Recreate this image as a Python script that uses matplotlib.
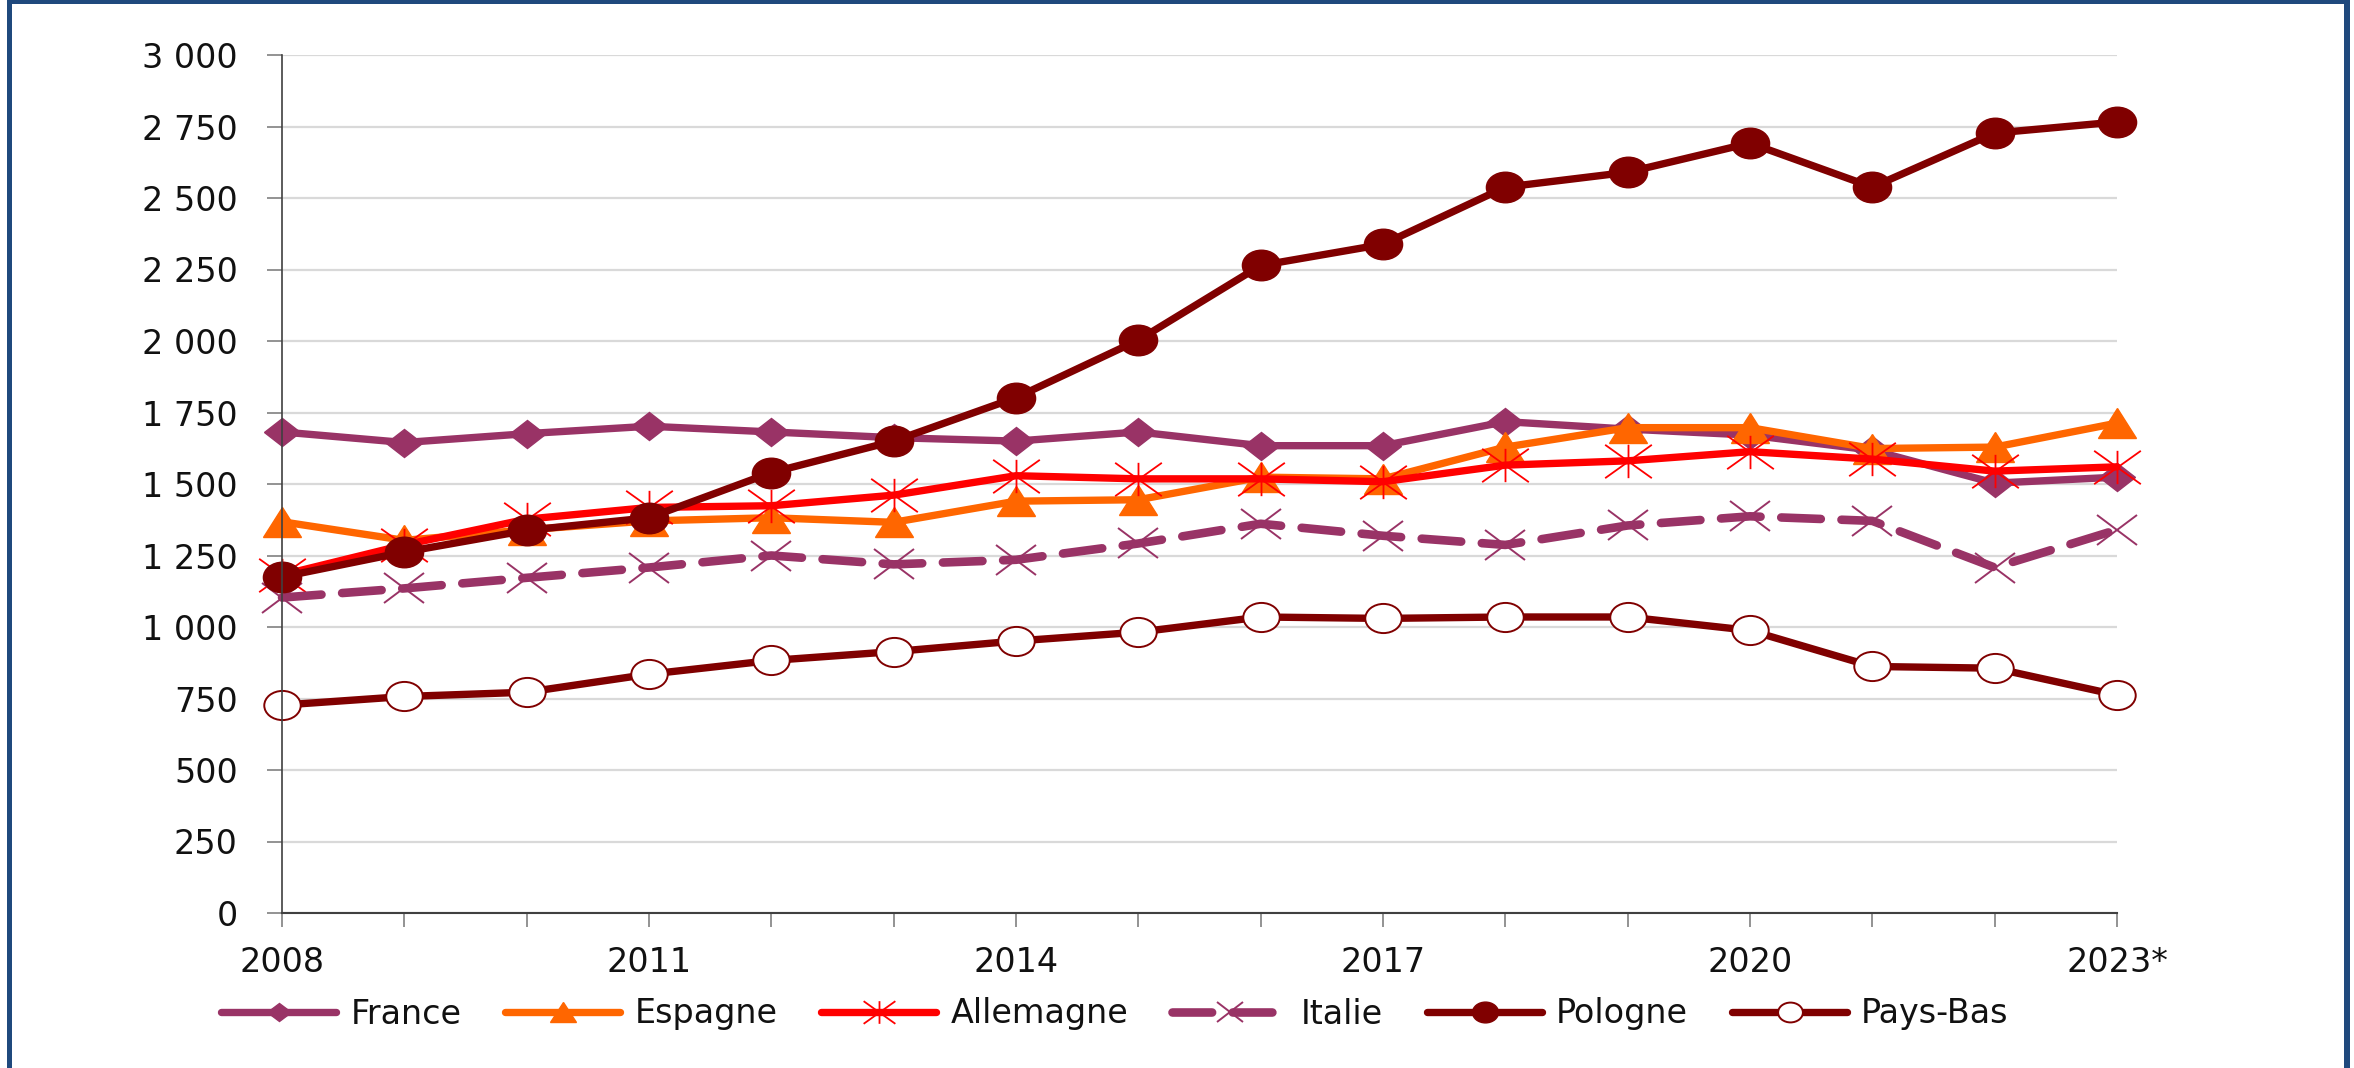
import matplotlib
matplotlib.use("Agg")
import matplotlib.pyplot as plt
from matplotlib.markers import MarkerStyle
from matplotlib.path import Path
from matplotlib.transforms import Affine2D
from matplotlib.patches import Rectangle

# ---------------- data ----------------
years = list(range(2008, 2024))
year_labels = ["2008", "", "", "2011", "", "", "2014", "", "", "2017", "", "", "2020", "", "", "2023*"]
y_ticks = [0, 250, 500, 750, 1000, 1250, 1500, 1750, 2000, 2250, 2500, 2750, 3000]
y_tick_labels = ["0", "250", "500", "750", "1 000", "1 250", "1 500", "1 750",
                 "2 000", "2 250", "2 500", "2 750", "3 000"]

france = [1682, 1645, 1676, 1702, 1682, 1662, 1650, 1682, 1634, 1634, 1718, 1692, 1671, 1618, 1503, 1524]
espagne = [1368, 1303, 1340, 1371, 1382, 1366, 1440, 1445, 1524, 1518, 1629, 1697, 1697, 1624, 1629, 1713]
allemagne = [1182, 1287, 1377, 1418, 1424, 1461, 1529, 1518, 1518, 1508, 1566, 1581, 1613, 1587, 1545, 1560]
italie = [1103, 1135, 1172, 1208, 1250, 1219, 1235, 1292, 1361, 1319, 1287, 1355, 1387, 1371, 1208, 1340]
pologne = [1175, 1262, 1338, 1382, 1540, 1650, 1802, 2003, 2264, 2338, 2538, 2590, 2692, 2538, 2727, 2766]
pays_bas = [727, 757, 772, 835, 883, 914, 951, 982, 1035, 1030, 1035, 1035, 988, 862, 856, 762]

series_names = ["France", "Espagne", "Allemagne", "Italie", "Pologne", "Pays-Bas"]

# ---------------- figure ----------------
W, H = 2354, 1068
fig = plt.figure(figsize=(W / 100, H / 100), dpi=100)
plt.rcParams['font.family'] = ['DejaVu Sans']

ax = fig.add_axes([282 / W, 1 - 913 / H, (2117 - 282) / W, (913 - 55) / H])

SX = 1.28  # horizontal stretch of markers (reference is stretched)


def mk(m, sx=SX):
    return MarkerStyle(m, transform=Affine2D().scale(sx, 1.0))


star_path = Path([(0, -1), (0, 1), (-1, -1), (1, 1), (-1, 1), (1, -1)],
                 [Path.MOVETO, Path.LINETO, Path.MOVETO, Path.LINETO, Path.MOVETO, Path.LINETO])

LW = 5.3
plum = "#993366"
orange = "#FF6600"
red = "#FF0000"
maroon = "#800000"

ax.plot(years, france, color=plum, lw=LW, marker=mk("D"), markersize=14,
        markeredgecolor=plum, markerfacecolor=plum, clip_on=False, label=series_names[0],
        solid_capstyle="round")
ax.plot(years, espagne, color=orange, lw=LW, marker=mk("^"), markersize=21,
        markeredgecolor=orange, markerfacecolor=orange, clip_on=False, label=series_names[1],
        solid_capstyle="round")
ax.plot(years, allemagne, color=red, lw=LW, marker=mk(star_path, 1.4), markersize=24,
        markeredgecolor=red, markeredgewidth=1.3, clip_on=False, label=series_names[2],
        solid_capstyle="round")
ax.plot(years, italie, color=plum, lw=6.2, linestyle=(0, (4.6, 2.4)), dash_capstyle="round",
        marker=mk("x", 1.35), markersize=21, markeredgecolor=plum, markeredgewidth=1.4,
        clip_on=False, label=series_names[3])
ax.plot(years, pologne, color=maroon, lw=LW, marker=mk("o", 1.25), markersize=22,
        markeredgecolor=maroon, markerfacecolor=maroon, clip_on=False, label=series_names[4],
        solid_capstyle="round")
ax.plot(years, pays_bas, color=maroon, lw=LW, marker=mk("o", 1.25), markersize=21,
        markeredgecolor=maroon, markerfacecolor="white", markeredgewidth=1.4,
        clip_on=False, label=series_names[5], solid_capstyle="round")

ax.set_xlim(2008, 2023)
ax.set_ylim(0, 3000)
ax.set_xticks(years)
ax.set_xticklabels(year_labels)
ax.set_yticks(y_ticks)
ax.set_yticklabels(y_tick_labels)

ax.yaxis.grid(True, color="#D9D9D9", lw=1.6)
ax.set_axisbelow(True)
for s in ["top", "right"]:
    ax.spines[s].set_visible(False)
ax.spines["left"].set_color("#404040")
ax.spines["left"].set_linewidth(1.2)
ax.spines["bottom"].set_color("#404040")
ax.spines["bottom"].set_linewidth(1.5)

ax.tick_params(axis="y", length=10.8, width=1.2, color="#808080", pad=21,
               labelsize=24, labelcolor="#111111")
ax.tick_params(axis="x", length=10, width=1.2, color="#808080", pad=14,
               labelsize=24, labelcolor="#111111")

leg = fig.legend(loc="center", bbox_to_anchor=(1115 / W, 1 - 1014 / H), ncol=6,
                 frameon=False, fontsize=24, handlelength=3.45, handletextpad=0.42,
                 columnspacing=1.32, markerscale=0.68, borderaxespad=0, borderpad=0)
for t in leg.get_texts():
    t.set_color("#111111")

# dark blue border
blue = "#1F497D"
fig.add_artist(Rectangle((7 / W, 0), 5 / W, 1, transform=fig.transFigure, color=blue, lw=0))
fig.add_artist(Rectangle((2344 / W, 0), 6 / W, 1, transform=fig.transFigure, color=blue, lw=0))
fig.add_artist(Rectangle((7 / W, 1 - 4 / H), (2350 - 7) / W, 4 / H, transform=fig.transFigure,
                         color=blue, lw=0))

fig.savefig("out.png", dpi=100)
